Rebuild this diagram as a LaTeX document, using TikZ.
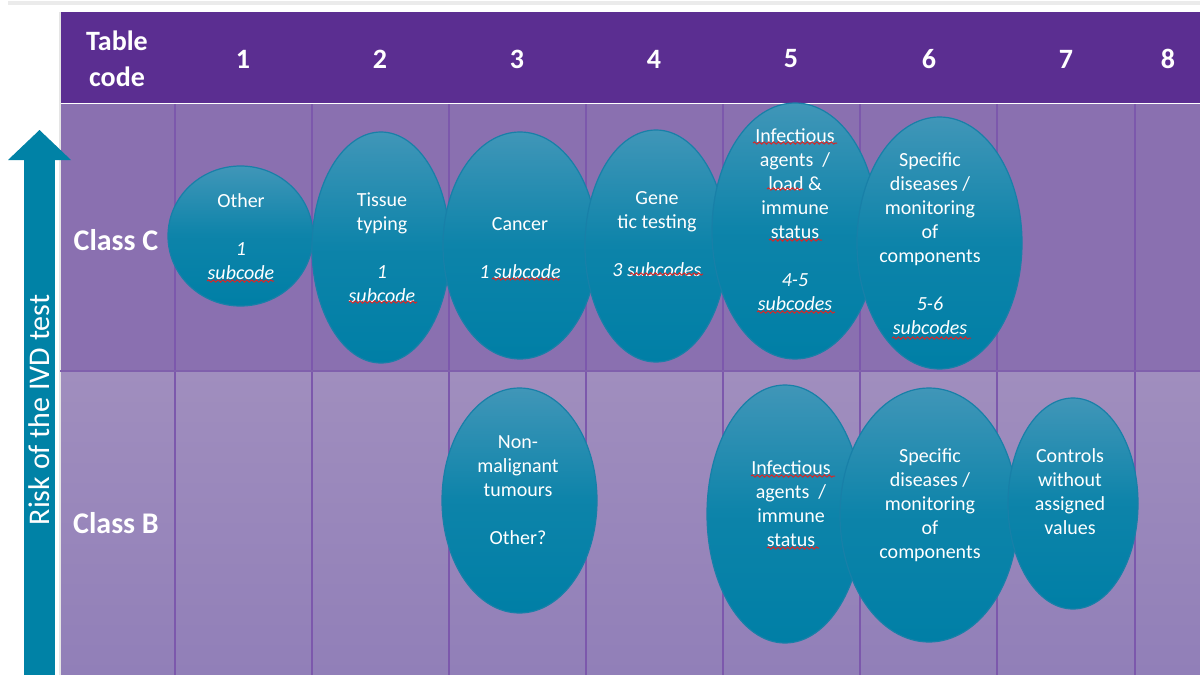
\documentclass[tikz,border=0pt]{standalone}
\usepackage{fontspec}
\setmainfont{Carlito}
\usetikzlibrary{shapes.geometric,decorations.pathmorphing}
\definecolor{hdr}{RGB}{91,46,145}
\definecolor{rowc}{RGB}{138,112,176}
\definecolor{rowbtop}{RGB}{160,142,190}
\definecolor{rowbbot}{RGB}{145,127,184}
\definecolor{gridln}{RGB}{124,88,172}
\definecolor{sepln}{RGB}{128,96,172}
\definecolor{tealtop}{RGB}{64,150,184}
\definecolor{tealbot}{RGB}{0,127,166}
\definecolor{tealedge}{RGB}{24,128,168}
\definecolor{arrowteal}{RGB}{0,130,166}
\definecolor{spell}{RGB}{214,40,40}
\tikzset{
  bubble/.style={ellipse, draw=tealedge, line width=0.6pt, top color=tealtop, bottom color=tealbot, middle color=tealbot!80!tealtop, inner sep=0pt},
  bubbletext/.style={text=white, align=center, font=\fontsize{10}{12}\selectfont},
  headtext/.style={text=white, align=center, font=\fontsize{14}{18}\selectfont\bfseries},
  classtext/.style={text=white, font=\fontsize{15}{18}\selectfont\bfseries},
  gridline/.style={draw=gridln, line width=0.9pt},
  spellmark/.style={draw=spell, line width=0.5pt, decorate, decoration={snake, segment length=2.4pt, amplitude=0.55pt}}
}
\begin{document}
\begin{tikzpicture}[x=0.5pt,y=-0.5pt]
\useasboundingbox (0,0) rectangle (1200,675);
\fill[white] (0,0) rectangle (1200,675);
% faint rule along the top edge
\fill[black!8] (8,1) rectangle (1200,5);

% header band
\fill[hdr] (60,12) rectangle (1200,103);
% body rows
\fill[rowc] (60,104) rectangle (1200,371);
\shade[top color=rowbtop, bottom color=rowbbot] (60,371) rectangle (1200,675);
\draw[white, line width=0.6pt] (60,103.5) -- (1200,103.5);
\draw[black!10!white, line width=0.8pt] (60,12) -- (60,675);

% column rules
\foreach \x in {175,312,449,586,723,860,997,1135}
  \draw[gridline] (\x,104) -- (\x,675);
\draw[sepln, line width=1.4pt] (60,371) -- (1200,371);

% header labels
\node[headtext] (hcode) at (117,59) {Table\\code};
\node[headtext] (h1) at (243,59) {1};
\node[headtext] (h2) at (380,59) {2};
\node[headtext] (h3) at (517,59) {3};
\node[headtext] (h4) at (654,59) {4};
\node[headtext] (h5) at (791,59) {5};
\node[headtext] (h6) at (929,59) {6};
\node[headtext] (h7) at (1066,59) {7};
\node[headtext] (h8) at (1168,59) {8};

% row labels
\node[classtext] (classC) at (116,240) {Class C};
\node[classtext] (classB) at (116,523) {Class B};

% risk arrow
\fill[arrowteal] (24,160) rectangle (55,675);
\fill[arrowteal] (8,160) -- (39.5,130) -- (71,160) -- cycle;
\node[text=white, rotate=90, font=\fontsize{15}{18}\selectfont] (risk) at (39.5,410) {Risk of the IVD test};

% class C bubbles
\node[bubble, minimum width=72.5pt, minimum height=70pt] (eOther) at (240.5,236) {};
\node[bubble, minimum width=69pt, minimum height=115.5pt] (eTissue) at (381,247.5) {};
\node[bubble, minimum width=77pt, minimum height=113.5pt] (eCancer) at (520,245.5) {};
\node[bubble, minimum width=71pt, minimum height=116pt] (eGene) at (656,246) {};
\node[bubble, minimum width=83pt, minimum height=128pt] (eInfC) at (795,231) {};
\node[bubble, minimum width=82.5pt, minimum height=126pt] (eSpecC) at (939.5,243) {};

% class B bubbles
\node[bubble, minimum width=77.5pt, minimum height=112.5pt] (eNonMal) at (519.5,500.5) {};
\node[bubble, minimum width=78pt, minimum height=129pt] (eInfB) at (785,514) {};
\node[bubble, minimum width=89pt, minimum height=127pt] (eSpecB) at (929,515) {};
\node[bubble, minimum width=65pt, minimum height=105.5pt] (eCtrl) at (1073,503.5) {};

% bubble texts
\node[bubbletext] (tOther) at (241,237) {Other\\[12pt]\textit{1}\\\textit{subcode}};
\node[bubbletext] (tTissue) at (382,248) {Tissue\\typing\\[12pt]\textit{1}\\\textit{subcode}};
\node[bubbletext] (tCancer) at (520,248) {Cancer\\[12pt]\textit{1 subcode}};
\node[bubbletext] (tGene) at (657,234) {Gene\\tic testing\\[12pt]\textit{3 subcodes}};
\node[bubbletext] (tInfC) at (795,220) {Infectious\\agents~~/\\load \&\\immune\\status\\[12pt]\textit{4-5}\\\textit{subcodes}};
\node[bubbletext] (tSpecC) at (930,244) {Specific\\diseases /\\monitoring\\of\\components\\[12pt]\textit{5-6}\\\textit{subcodes}};
\node[bubbletext] (tNonMal) at (518,490) {Non-\\malignant\\tumours\\[12pt]Other?};
\node[bubbletext] (tInfB) at (791,504) {Infectious\\agents~~/\\immune\\status};
\node[bubbletext] (tSpecB) at (930,505) {Specific\\diseases /\\monitoring\\of\\components};
\node[bubbletext] (tCtrl) at (1070,492) {Controls\\without\\assigned\\values};

% spelling marks under words
\draw[spellmark] (207,281) -- (274,281);
\draw[spellmark] (349,302) -- (417,302);
\draw[spellmark] (492,279) -- (560,279);
\draw[spellmark] (630,274) -- (703,274);
\draw[spellmark] (753,143) -- (837,143);
\draw[spellmark] (767,189) -- (803,189);
\draw[spellmark] (769,240) -- (822,240);
\draw[spellmark] (757,312) -- (835,312);
\draw[spellmark] (892,338) -- (971,338);
\draw[spellmark] (751,476) -- (835,476);
\draw[spellmark] (767,548) -- (819,548);
\end{tikzpicture}
\end{document}
